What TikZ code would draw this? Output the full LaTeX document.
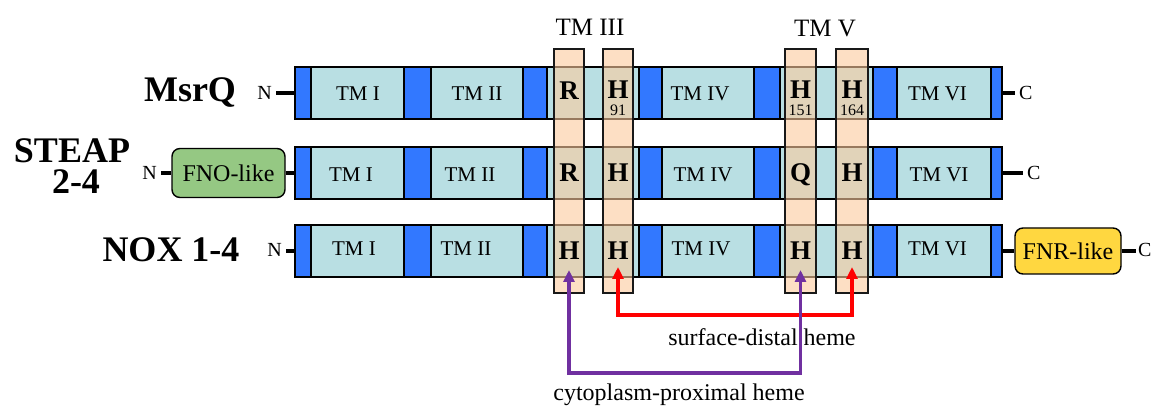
\documentclass[tikz,border=0pt]{standalone}
\usepackage{fontspec}
\setmainfont{Liberation Serif}
\usetikzlibrary{arrows.meta}
\definecolor{membfill}{RGB}{185,223,227}
\definecolor{loopfill}{RGB}{50,120,255}
\definecolor{helixfill}{RGB}{252,203,158}
\definecolor{fnofill}{RGB}{149,200,131}
\definecolor{fnrfill}{RGB}{255,215,64}
\definecolor{proxcol}{RGB}{112,48,160}
\definecolor{distcol}{RGB}{255,0,0}
\newcommand{\fsz}[1]{\fontsize{#1}{#1}\selectfont}

\begin{document}
\begin{tikzpicture}[x=1pt,y=-1pt,
  seg/.style={draw=black, line width=1.4pt, inner sep=0pt, minimum height=52pt},
  helix/.style={draw=black!90, line width=1.4pt, fill=helixfill, fill opacity=0.6,
                inner sep=0pt, minimum height=244pt},
  tmlab/.style={font={\fsz{21}}, anchor=base, inner sep=0pt},
  res/.style={font={\fsz{27}\bfseries}, anchor=base, inner sep=0pt},
  resnum/.style={font={\fsz{16}}, anchor=base, inner sep=0pt},
  header/.style={font={\fsz{25}}, anchor=base, inner sep=0pt},
  protein/.style={font={\fsz{36}\bfseries}, anchor=base, inner sep=0pt},
  term/.style={font={\fsz{20}}, inner xsep=4pt, inner ysep=0pt},
  stub/.style={line width=4.5pt},
  solbox/.style={draw=black, line width=1.4pt, rounded corners=8pt, font={\fsz{24}}, inner sep=0pt},
  heme/.style={line width=3.2pt, >={Triangle[width=11pt,length=12pt]}, <->},
  caption/.style={font={\fsz{24}}, anchor=base, inner sep=0pt}
]
\path[use as bounding box, fill=white] (0,0) rectangle (1152,406);

% membrane rows: loops (blue) and transmembrane helices (light)
\foreach \r/\yc in {a/93,b/173,c/251}{
  \foreach \n/\xl/\xr/\k in {s1/295/311/loopfill, t1/311/404/membfill, s2/404/431/loopfill,
      t2/431/523/membfill, s3/523/547/loopfill, t3/547/639/membfill, s4/639/662/loopfill,
      t4/662/754/membfill, s5/754/780/loopfill, t5/780/873/membfill, s6/873/897/loopfill,
      t6/897/991/membfill, s7/991/1002/loopfill}{
    \node[seg, fill=\k, minimum width={(\xr-\xl)*1pt}] (\r\n) at ({(\xl+\xr)/2},\yc) {};
  }
}

% termini and soluble domains
\node[term, anchor=base east] (aN) at (276,100) {N};
\draw[stub] (aN.east |- as1.west) -- (as1.west);
\node[term, anchor=base west] (aC) at (1015,99.3) {C};
\draw[stub] (as7.east) -- (aC.west |- as7.east);

\node[term, anchor=base east] (bN) at (161,180) {N};
\node[solbox, fill=fnofill, minimum width=113pt, minimum height=49pt] (bfno) at (228.5,173) {FNO-like};
\draw[stub] (bN.east |- bfno.west) -- (bfno.west);
\draw[stub] (bfno.east) -- (bs1.west);
\node[term, anchor=base west] (bC) at (1023,179.3) {C};
\draw[stub] (bs7.east) -- (bC.west |- bs7.east);

\node[term, anchor=base east] (cN) at (286,256.7) {N};
\draw[stub] (cN.east |- cs1.west) -- (cs1.west);
\node[solbox, fill=fnrfill, minimum width=106pt, minimum height=46pt] (cfnr) at (1068,251) {FNR-like};
\draw[stub] (cs7.east) -- (cfnr.west);
\node[term, inner xsep=2pt, anchor=base west] (cC) at (1136,256.7) {C};
\draw[stub] (cfnr.east) -- (cC.west |- cfnr.east);

% TM labels
\node[tmlab] (al1) at (358,101) {TM I};
\node[tmlab] (al2) at (477,101) {TM II};
\node[tmlab] (al4) at (700,101) {TM IV};
\node[tmlab] (al6) at (937.5,101) {TM VI};
\node[tmlab] (bl1) at (351,181.5) {TM I};
\node[tmlab] (bl2) at (470,181.5) {TM II};
\node[tmlab] (bl4) at (703,181.5) {TM IV};
\node[tmlab] (bl6) at (939,181.5) {TM VI};
\node[tmlab] (cl1) at (354,255.5) {TM I};
\node[tmlab] (cl2) at (466,255.5) {TM II};
\node[tmlab] (cl4) at (701,255.5) {TM IV};
\node[tmlab] (cl6) at (937.5,255.5) {TM VI};

% heme-ligating helix positions
\node[helix, minimum width=30pt] (hx1) at (569,171) {};
\node[helix, minimum width=30pt] (hx2) at (618,171) {};
\node[helix, minimum width=31pt] (hx3) at (800.5,171) {};
\node[helix, minimum width=32pt] (hx4) at (852,171) {};

\node[header] (h3) at (590,36) {TM III};
\node[header] (h5) at (825,36.5) {TM V};

% residues
\node[res] (ar1) at (569,99.5) {R};
\node[res] (ar2) at (618,99) {H};
\node[res] (ar3) at (800.5,99) {H};
\node[res] (ar4) at (852,99) {H};
\node[resnum] (an2) at (618,116) {91};
\node[resnum] (an3) at (800.5,116) {151};
\node[resnum] (an4) at (852,116) {164};
\node[res] (br1) at (569,181.5) {R};
\node[res] (br2) at (618,181.5) {H};
\node[res] (br3) at (800.5,181.5) {Q};
\node[res] (br4) at (852,181.5) {H};
\node[res] (cr1) at (569,259.5) {H};
\node[res] (cr2) at (618,259.5) {H};
\node[res] (cr3) at (800.5,259.5) {H};
\node[res] (cr4) at (852,259.5) {H};

% protein names
\node[protein] (pa) at (190,101.5) {MsrQ};
\node[protein] (pb1) at (72,162.7) {STEAP};
\node[protein] (pb2) at (76,194) {2-4};
\node[protein] (pc) at (171,261.7) {NOX 1-4};

% heme pairs
\draw[heme, distcol] ([yshift=-7.5pt]cr2.base) -- ++(0,48) -| ([yshift=-7.5pt]cr4.base);
\draw[heme, proxcol] ([yshift=-10.5pt]cr1.base) -- ++(0,103) -| ([yshift=-10.5pt]cr3.base);

\node[caption] (capd) at (762,345) {surface-distal heme};
\node[caption] (capp) at (679,400) {cytoplasm-proximal heme};
\end{tikzpicture}
\end{document}
